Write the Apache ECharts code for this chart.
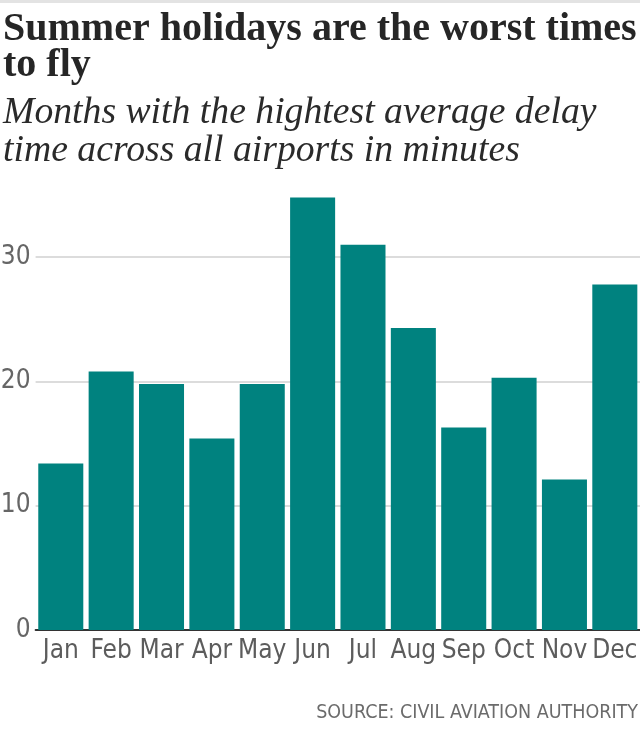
<!DOCTYPE html>
<html>
<head>
<meta charset="utf-8">
<script src="https://cdn.jsdelivr.net/npm/echarts@6/dist/echarts.min.js"></script>
<style>
html,body{margin:0;padding:0;background:#fff;}
#chart{width:640px;height:729px;}
</style>
</head>
<body>
<div id="chart"></div>
<script>
const months = ['Jan','Feb','Mar','Apr','May','Jun','Jul','Aug','Sep','Oct','Nov','Dec'];
const delayMinutes = [13.4, 20.8, 19.8, 15.4, 19.8, 34.8, 31.0, 24.3, 16.3, 20.3, 12.1, 27.8];
const yTicks = [0, 10, 20, 30];
const titleText = 'Summer holidays are the worst times\nto fly';
const subtitleText = 'Months with the hightest average delay\ntime across all airports in minutes';
const sourceText = 'SOURCE: CIVIL AVIATION AUTHORITY';

const condensed = '"DejaVu Sans", sans-serif';
const serif = '"Liberation Serif", "DejaVu Serif", serif';

const chart = echarts.init(document.getElementById('chart'), null, {renderer: 'canvas'});
chart.setOption({
  animation: false,
  backgroundColor: '#ffffff',
  title: [
    {
      text: titleText,
      left: 3, top: 12,
      padding: 0,
      textStyle: {fontFamily: serif, fontWeight: 'bold', fontSize: 40, lineHeight: 36, color: '#262626'}
    },
    {
      text: subtitleText,
      left: 3, top: 94,
      padding: 0,
      textStyle: {fontFamily: serif, fontStyle: 'italic', fontWeight: 'normal', fontSize: 37.7, lineHeight: 38, color: '#2a2a2a'}
    }
  ],
  graphic: [
    {type: 'rect', shape: {x: 0, y: 0, width: 640, height: 3}, style: {fill: '#e3e3e3'}},
    {type: 'text', right: 2, top: 703, style: {text: sourceText, font: 'condensed 19.5px "DejaVu Sans"', fill: '#6b6b6b', textAlign: 'right'}}
  ],
  grid: {left: 35.6, right: 0, top: 195, bottom: 99, containLabel: false, outerBoundsMode: 'none'},
  xAxis: {
    type: 'category',
    data: months,
    axisLine: {show: true, lineStyle: {color: '#333', width: 2}},
    axisTick: {show: false},
    axisLabel: {color: '#5c5c5c', fontFamily: condensed, fontStyle: 'normal condensed', fontWeight: 'normal', fontSize: 26, margin: 8, interval: 0}
  },
  yAxis: {
    type: 'value',
    min: 0, max: 35, interval: 10,
    axisLine: {show: false},
    axisTick: {show: false},
    splitLine: {show: true, showMaxLine: false, lineStyle: {color: '#dcdcdc', width: 2}},
    axisLabel: {
      color: '#666', fontFamily: condensed, fontStyle: 'normal condensed', fontSize: 26, margin: 5,
      formatter: v => yTicks.includes(v) ? String(v) : ''
    }
  },
  series: [{
    type: 'bar',
    data: delayMinutes,
    barCategoryGap: '10.6%',
    itemStyle: {color: '#00827f'}
  }]
});
</script>
</body>
</html>
